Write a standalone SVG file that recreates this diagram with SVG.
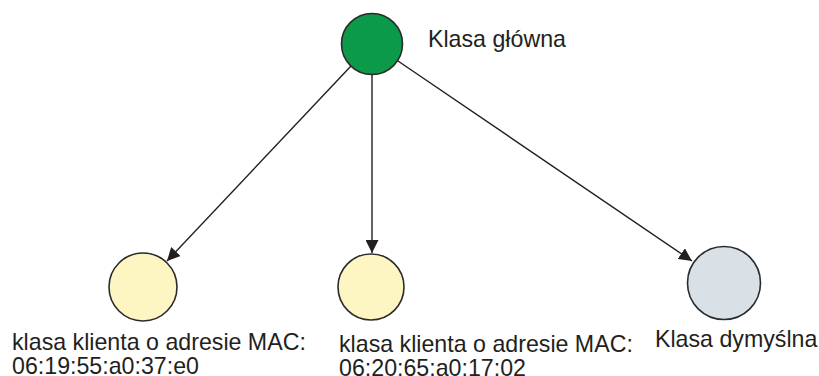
<svg xmlns="http://www.w3.org/2000/svg" width="819" height="376" viewBox="0 0 819 376">
  <style>
    .node { stroke: #2b2b2b; stroke-width: 1.6; }
    .root { fill: #0b9a4a; }
    .client { fill: #fdf5c2; }
    .default { fill: #d9e0e6; }
    .label { font-family: "Liberation Sans", Arial, sans-serif; font-size: 23.2px; fill: #231f20; }
    .edge { stroke: #231f20; stroke-width: 1.4; fill: none; marker-end: url(#arrow); }
  </style>
  <defs>
    <marker id="arrow" viewBox="0 0 10 10" refX="10" refY="5" markerWidth="13" markerHeight="13" markerUnits="userSpaceOnUse" orient="auto">
      <path d="M0,0 L10,5 L0,10 z" fill="#231f20"/>
    </marker>
  </defs>
  <rect width="819" height="376" fill="#ffffff"/>

  <g id="connectors">
    <line class="edge" x1="351" y1="66" x2="167" y2="261"/>
    <line class="edge" x1="372" y1="75" x2="372" y2="253"/>
    <line class="edge" x1="398" y1="61" x2="692" y2="261"/>
  </g>

  <g id="root-class">
    <circle class="node root" cx="372" cy="44" r="30.5"/>
    <text class="label" x="428" y="47">Klasa główna</text>
  </g>

  <g id="client-class-1">
    <circle class="node client" cx="143" cy="287" r="34"/>
    <text class="label" x="12" y="350">klasa klienta o adresie MAC:</text>
    <text class="label" x="12" y="373.5">06:19:55:a0:37:e0</text>
  </g>

  <g id="client-class-2">
    <circle class="node client" cx="371" cy="287" r="33"/>
    <text class="label" x="339" y="352">klasa klienta o adresie MAC:</text>
    <text class="label" x="339" y="375.5">06:20:65:a0:17:02</text>
  </g>

  <g id="default-class">
    <circle class="node default" cx="724" cy="283" r="36.5"/>
    <text class="label" x="655" y="347">Klasa dymyślna</text>
  </g>
</svg>
